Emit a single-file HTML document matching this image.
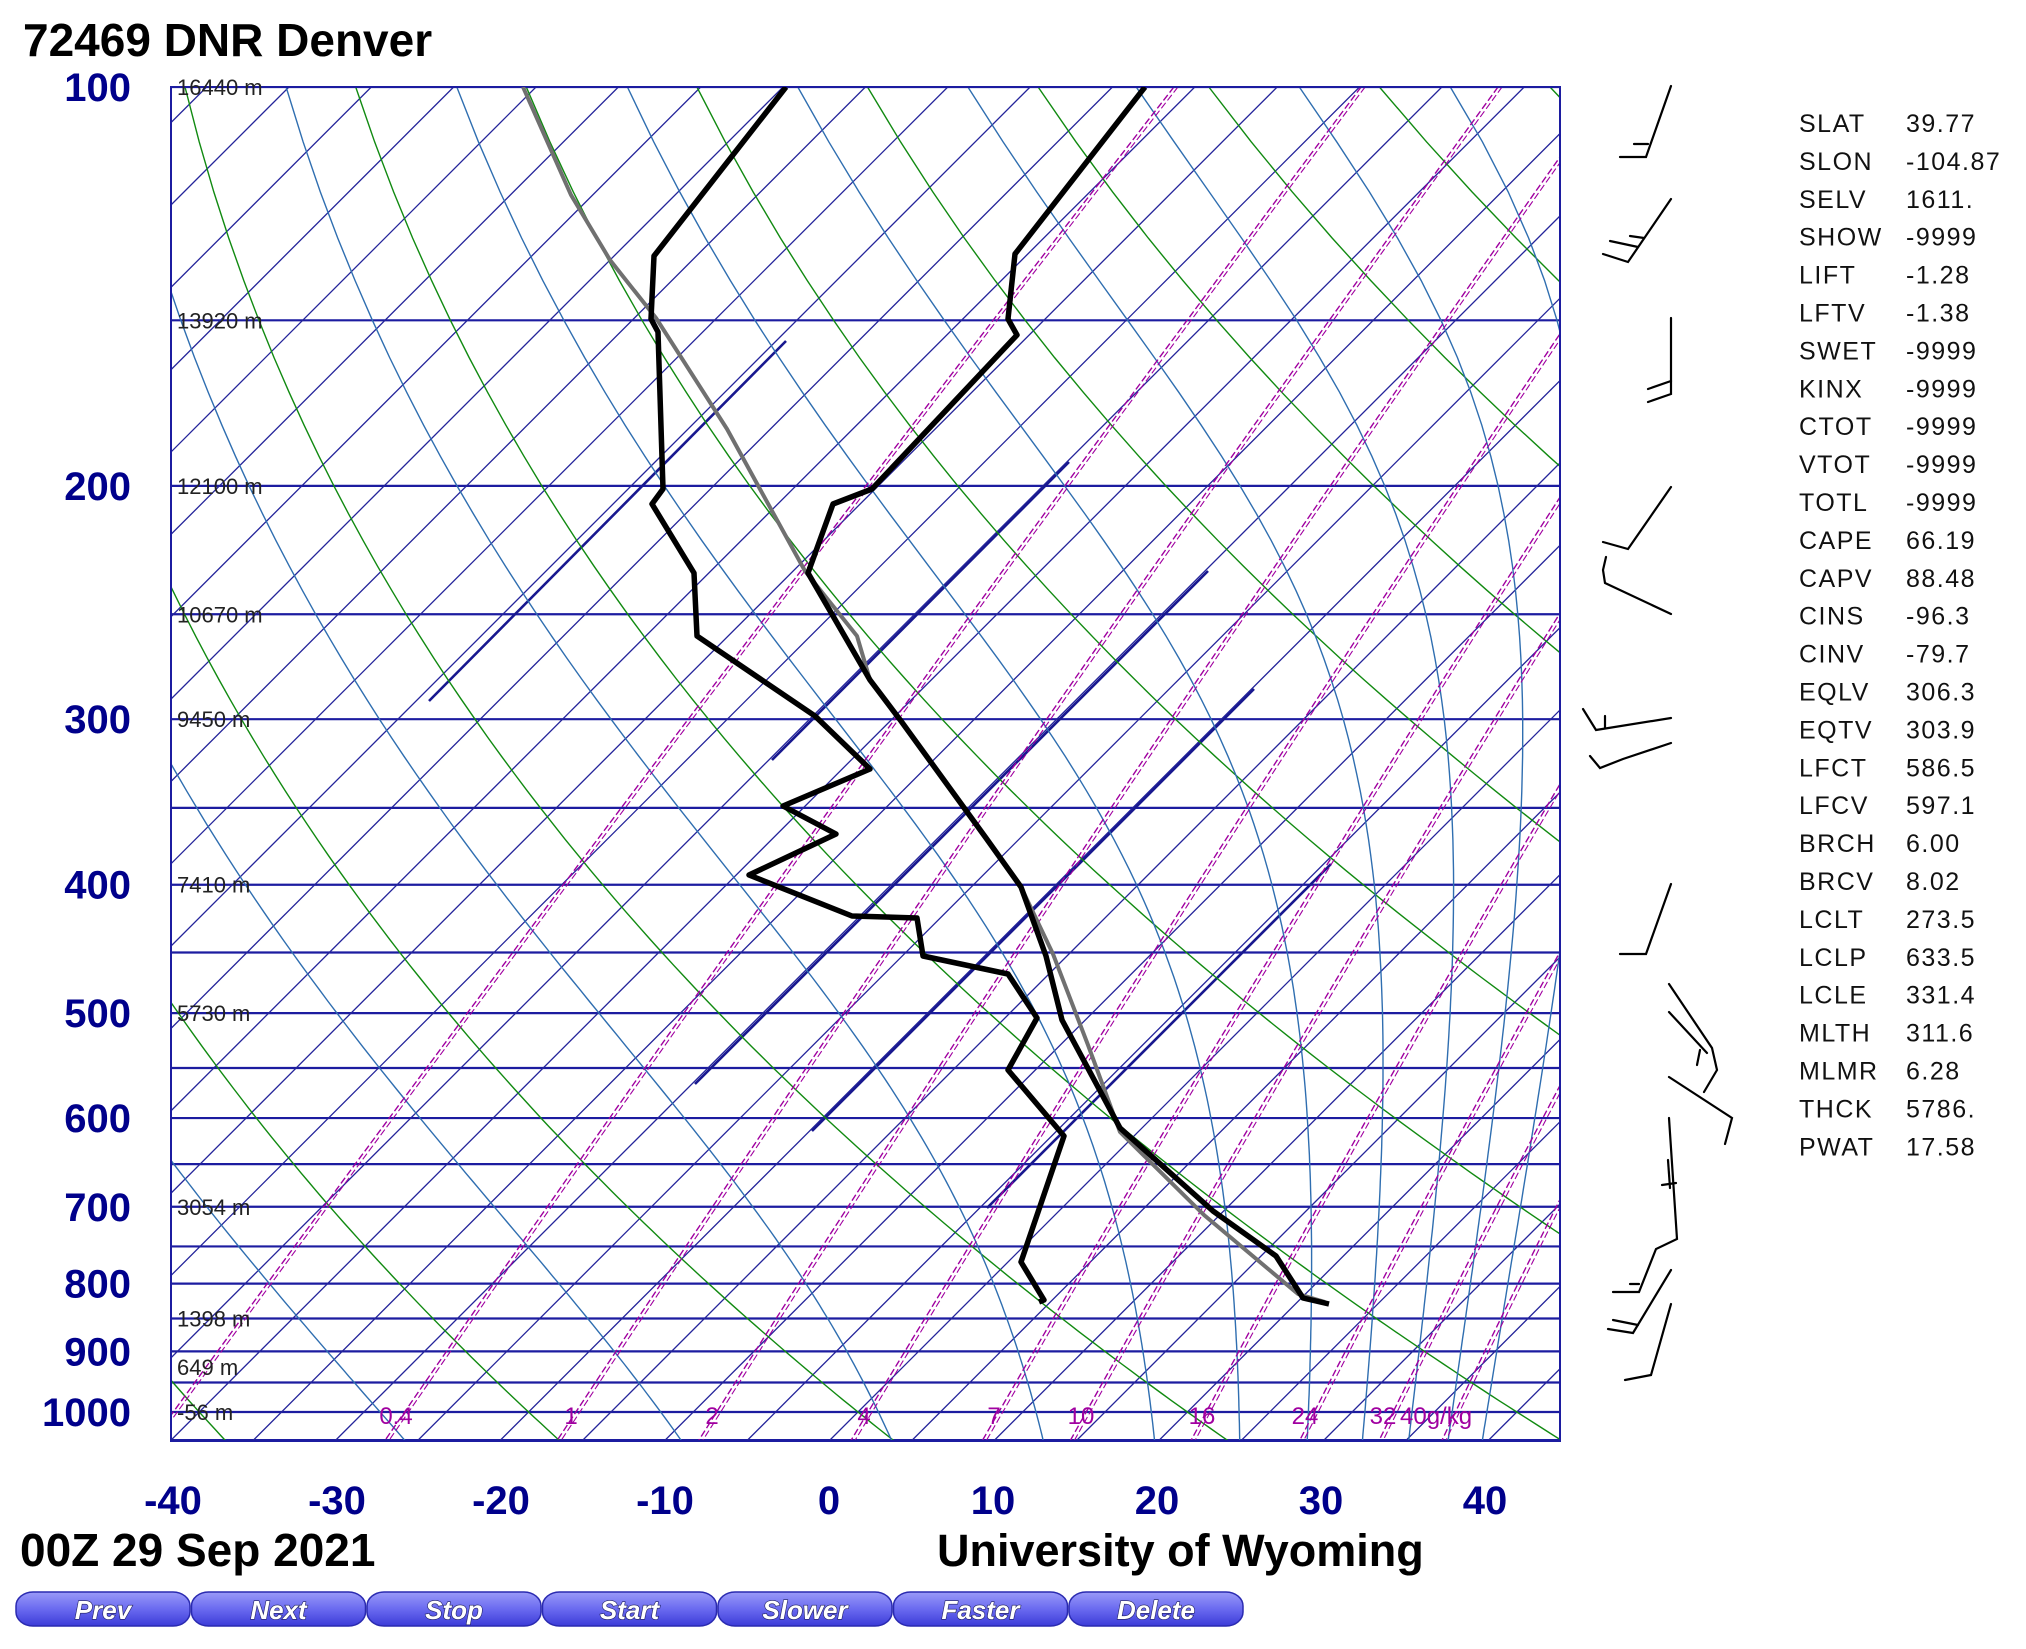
<!DOCTYPE html>
<html><head><meta charset="utf-8"><style>
html,body{margin:0;padding:0;background:#fff;}
svg{display:block;}
.ax{font-family:"Liberation Sans",sans-serif;font-weight:bold;font-size:40px;fill:#00008b;}
.hl{font-family:"Liberation Sans",sans-serif;font-size:22px;fill:#222;}
.st{font-family:"Liberation Sans",sans-serif;font-size:25px;fill:#111;letter-spacing:1.5px;}
.tt{font-family:"Liberation Sans",sans-serif;font-weight:bold;font-size:46px;fill:#000;}
.ml{font-family:"Liberation Sans",sans-serif;font-size:24px;fill:#a000a0;}
.bt{font-family:"Liberation Sans",sans-serif;font-weight:bold;font-style:italic;font-size:26px;fill:#fff;stroke:#202060;stroke-width:1.2px;paint-order:stroke;}
</style></head><body>
<svg id="s" width="2026" height="1649" viewBox="0 0 2026 1649" xmlns="http://www.w3.org/2000/svg">
<defs>
<clipPath id="pc"><rect x="171" y="87" width="1389" height="1354"/></clipPath>
<linearGradient id="bg" x1="0" y1="0" x2="0" y2="1"><stop offset="0" stop-color="#9a9af8"/><stop offset="0.5" stop-color="#6a6af0"/><stop offset="1" stop-color="#3b3bd8"/></linearGradient>
</defs>
<g id="grid" clip-path="url(#pc)"></g>
<rect x="171" y="87" width="1389" height="1354" fill="none" stroke="#1c1ca0" stroke-width="2"/>
<g id="data" clip-path="url(#pc)"></g>
<g id="labels"></g>
<text class="tt" x="23" y="56">72469 DNR Denver</text>
<text class="tt" x="20" y="1566">00Z 29 Sep 2021</text>
<text class="tt" x="937" y="1566" style="font-size:45px">University of Wyoming</text>
<g id="btns"></g>
<g id="barbs" stroke="#000" stroke-width="2.2" fill="none" stroke-linecap="round"></g>
<g id="stats"></g>
</svg>
<script>
var NS="http://www.w3.org/2000/svg";
function el(par,tag,at,txt){var e=document.createElementNS(NS,tag);for(var k in at)e.setAttribute(k,at[k]);if(txt!==undefined)e.textContent=txt;document.getElementById(par).appendChild(e);return e;}
var Y0=87,KY=1325,YB=1441;
function yp(p){return Y0+KY*Math.log10(p/100);}
function xT(T,y){return 829+16.47*T+(YB-y);}
function pathFrom(pts){return "M"+pts.map(function(a){return a[0].toFixed(1)+","+a[1].toFixed(1);}).join("L");}
for(var p=100;p<=1050;p+=50){var y=yp(p);el("grid","line",{x1:171,x2:1560,y1:y,y2:y,stroke:"#1c1ca0","stroke-width":2.2});}
// isotherms every 5C
for(var n=-40;n<=20;n++){var T=n*5;var c=829+16.47*T+YB;
 el("grid","line",{x1:c-1441,y1:1441,x2:c-87,y2:87,stroke:"#24249a","stroke-width":1.3});}
// thick segments
[[429,701,786,341],[695,1084,1208,571],[772,760,1069,462],[812,1131,1254,689],[987,1208,1331,864]].forEach(function(s){
 el("grid","line",{x1:s[0],y1:s[1],x2:s[2],y2:s[3],stroke:"#18188f","stroke-width":2.6});});
for(var n=-6;n<=10;n++){var th=273.15+20*n;var pts=[];
 for(var p=100;p<=1060;p+=10){var T=th*Math.pow(p/1000,0.2857)-273.15;var y=yp(p);pts.push([xT(T,y),y]);}
 el("grid","path",{d:pathFrom(pts),fill:"none",stroke:"#118a11","stroke-width":1.4});}
function es(Tc){return 6.112*Math.exp(17.67*Tc/(Tc+243.5));}
function the(TK,p){var e=es(TK-273.15);if(e>p*0.5)e=p*0.5;var w=0.622*e/(p-e);return TK*Math.pow(1000/p,0.2857)*Math.exp(2.5e6*w/(1005*TK));}
for(var th=245;th<=445;th+=20){var pts=[];
 for(var p=100;p<=1060;p+=10){var lo=120,hi=340;for(var i=0;i<50;i++){var m=(lo+hi)/2;if(the(m,p)>th)hi=m;else lo=m;}
  var y=yp(p);pts.push([xT(lo-273.15,y),y]);}
 el("grid","path",{d:pathFrom(pts),fill:"none",stroke:"#2f6eb0","stroke-width":1.4});}
var ws=[0.1,0.4,1,2,4,7,10,16,24,32,40];
ws.forEach(function(w){var pts=[];for(var p=100;p<=1060;p+=20){var e=w*p/(622+w);var L=Math.log(e/6.112);var Td=243.5*L/(17.67-L);var y=yp(p);pts.push([xT(Td,y),y]);}
 el("grid","path",{d:pathFrom(pts),fill:"none",stroke:"#a000a0","stroke-width":1.4,"stroke-dasharray":"7,3"});
 el("grid","path",{d:pathFrom(pts),fill:"none",stroke:"#a000a0","stroke-width":1.1,"stroke-dasharray":"7,3",transform:"translate(4,0)"});});
[["0.4",396],["1",571],["2",712],["4",864],["7",994],["10",1081],["16",1202],["24",1305],["32",1383]].forEach(function(a){el("labels","text",{"class":"ml",x:a[1],y:1424,"text-anchor":"middle"},a[0]);});
el("labels","text",{"class":"ml",x:1400,y:1424},"40g/kg");
[100,200,300,400,500,600,700,800,900,1000].forEach(function(p){el("labels","text",{"class":"ax",x:131,y:yp(p)+14,"text-anchor":"end"},String(p));});
[-40,-30,-20,-10,0,10,20,30,40].forEach(function(t){el("labels","text",{"class":"ax",x:829+16.4*t,y:1514,"text-anchor":"middle"},String(t));});
[[100,"16440 m"],[150,"13920 m"],[200,"12100 m"],[250,"10670 m"],[300,"9450 m"],[400,"7410 m"],[500,"5730 m"],[700,"3054 m"],[850,"1398 m"],[925,"649 m"],[1000,"-56 m"]].forEach(function(a){el("labels","text",{"class":"hl",x:177,y:yp(a[0])+8},a[1]);});
var gray=[[523,87],[571,195],[610,260],[656,318],[727,429],[805,571],[857,636],[870,680],[901,721],[986,838],[1021,887],[1053,954],[1088,1045],[1120,1132],[1204,1215],[1298,1294],[1325,1302]];
var temp=[[1145,87],[1015,254],[1008,319],[1017,335],[872,489],[833,504],[808,573],[833,616],[870,680],[901,721],[986,838],[1021,887],[1046,956],[1062,1020],[1120,1128],[1213,1211],[1276,1256],[1303,1298],[1329,1304]];
var dew=[[786,87],[654,256],[651,319],[658,332],[663,489],[652,504],[694,573],[697,636],[815,716],[870,769],[783,806],[836,834],[749,875],[852,916],[917,918],[923,956],[1008,974],[1037,1018],[1008,1070],[1064,1136],[1021,1262],[1044,1300],[1039,1302]];
el("data","path",{d:pathFrom(gray),fill:"none",stroke:"#707070","stroke-width":4,"stroke-linejoin":"round"});
el("data","path",{d:pathFrom(temp),fill:"none",stroke:"#000","stroke-width":5.5,"stroke-linejoin":"round"});
el("data","path",{d:pathFrom(dew),fill:"none",stroke:"#000","stroke-width":5.5,"stroke-linejoin":"round"});
var b=[[[1671,86],[1646,157],[1620,157]],[[1648,144],[1634,144]],
[[1671,199],[1628,262],[1603,254]],[[1638,247],[1610,241]],[[1644,238],[1630,236]],
[[1671,318],[1671,394],[1648,402]],[[1671,381],[1648,389]],
[[1671,487],[1628,549],[1603,542]],
[[1671,614],[1605,583],[1603,570],[1606,557]],
[[1671,718],[1596,730],[1583,709]],[[1605,716],[1605,728]],
[[1671,743],[1623,759],[1600,768],[1590,756]],
[[1671,884],[1646,954],[1620,954]],
[[1669,984],[1712,1048],[1717,1070],[1704,1092]],[[1669,1012],[1707,1053]],[[1700,1050],[1697,1065]],
[[1669,1077],[1732,1118],[1725,1144]],
[[1669,1118],[1677,1239],[1656,1249],[1639,1292],[1613,1292]],[[1662,1185],[1676,1183]],[[1668,1160],[1670,1188]],[[1639,1284],[1630,1284]],
[[1671,1270],[1633,1333],[1608,1329]],[[1638,1325],[1613,1320]],
[[1671,1304],[1651,1375],[1625,1380]]];
b.forEach(function(pts){el("barbs","path",{d:pathFrom(pts)});});
var S=[["SLAT","39.77"],["SLON","-104.87"],["SELV","1611."],["SHOW","-9999"],["LIFT","-1.28"],["LFTV","-1.38"],["SWET","-9999"],["KINX","-9999"],["CTOT","-9999"],["VTOT","-9999"],["TOTL","-9999"],["CAPE","66.19"],["CAPV","88.48"],["CINS","-96.3"],["CINV","-79.7"],["EQLV","306.3"],["EQTV","303.9"],["LFCT","586.5"],["LFCV","597.1"],["BRCH","6.00"],["BRCV","8.02"],["LCLT","273.5"],["LCLP","633.5"],["LCLE","331.4"],["MLTH","311.6"],["MLMR","6.28"],["THCK","5786."],["PWAT","17.58"]];
S.forEach(function(a,i){var y=132+i*37.9;el("stats","text",{"class":"st",x:1799,y:y},a[0]);el("stats","text",{"class":"st",x:1906,y:y},a[1]);});
["Prev","Next","Stop","Start","Slower","Faster","Delete"].forEach(function(t,i){var x=16+i*175.5;
 el("btns","rect",{x:x,y:1592,width:174,height:34,rx:17,ry:14,fill:"url(#bg)",stroke:"#2a2ab0","stroke-width":1.5});
 el("btns","text",{"class":"bt",x:x+87,y:1619,"text-anchor":"middle"},t);});
</script>
</body></html>
